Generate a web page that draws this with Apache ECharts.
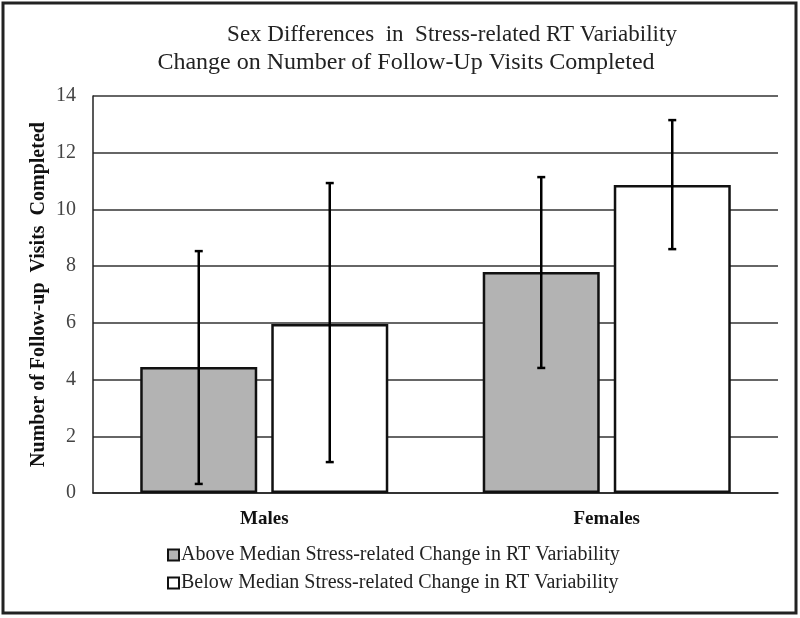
<!DOCTYPE html>
<html>
<head>
<meta charset="utf-8">
<script src="https://cdn.jsdelivr.net/npm/echarts@6/dist/echarts.min.js"></script>
<style>html,body{margin:0;padding:0;background:#fff;}#c{width:800px;height:618px;}</style>
</head>
<body>
<div id="c"></div>
<script>
var categories = ['Males', 'Females'];
var seriesNames = ['Above Median Stress-related Change in RT Variability', 'Below Median Stress-related Change in RT Variability'];
var aboveValues = [4.44, 7.79];
var belowValues = [5.96, 10.86];
var aboveErrLow = [0.32, 4.41];
var aboveErrHigh = [8.53, 11.14];
var belowErrLow = [1.09, 8.6];
var belowErrHigh = [10.93, 13.15];
var yTicks = [0, 2, 4, 6, 8, 10, 12, 14];

var serif = '"Liberation Serif", "Times New Roman", serif';
var chart = echarts.init(document.getElementById('c'));

function errSeries(low, high, offset) {
  return {
    type: 'custom',
    silent: true,
    z: 10,
    data: categories.map(function (c, i) { return [i, low[i], high[i]]; }),
    renderItem: function (params, api) {
      var lo = api.coord([api.value(0), api.value(1)]);
      var hi = api.coord([api.value(0), api.value(2)]);
      var x = lo[0] + offset;
      var cap = 4;
      var st = { stroke: '#000', lineWidth: 2.5 };
      return {
        type: 'group',
        children: [
          { type: 'line', shape: { x1: x, y1: lo[1], x2: x, y2: hi[1] }, style: st },
          { type: 'line', shape: { x1: x - cap, y1: lo[1], x2: x + cap, y2: lo[1] }, style: st },
          { type: 'line', shape: { x1: x - cap, y1: hi[1], x2: x + cap, y2: hi[1] }, style: st }
        ]
      };
    }
  };
}

chart.setOption({
  animation: false,
  backgroundColor: '#fff',
  title: [
    { text: 'Sex Differences  in  Stress-related RT Variability', left: 447, top: 18, textAlign: 'center',
      textStyle: { fontFamily: serif, fontSize: 23, fontWeight: 'normal', color: '#222' } },
    { text: 'Change on Number of Follow-Up Visits Completed', left: 401, top: 46, textAlign: 'center',
      textStyle: { fontFamily: serif, fontSize: 24, fontWeight: 'normal', color: '#222' } }
  ],
  legend: {
    orient: 'vertical',
    left: 162,
    top: 540,
    itemWidth: 11,
    itemHeight: 11,
    itemGap: 8,
    icon: 'rect',
    textStyle: { fontFamily: serif, fontSize: 20, color: '#222', padding: [0, 0, 0, -3] },
    data: seriesNames
  },
  grid: { left: 93, right: 22, top: 96, bottom: 125 },
  xAxis: {
    type: 'category',
    data: categories,
    axisTick: { show: false },
    axisLine: { show: true, lineStyle: { color: '#222', width: 1.5 } },
    axisLabel: { fontFamily: serif, fontSize: 19, fontWeight: 'bold', color: '#111', margin: 17 }
  },
  yAxis: {
    type: 'value',
    min: 0, max: 14, interval: 2,
    name: 'Number of Follow-up  Visits  Completed',
    nameLocation: 'middle',
    nameGap: 44,
    nameMoveOverlap: false,
    nameTextStyle: { fontFamily: serif, fontSize: 20, fontWeight: 'bold', color: '#111' },
    axisLine: { show: true, lineStyle: { color: '#222', width: 1.5 } },
    axisTick: { show: false },
    axisLabel: { fontFamily: serif, fontSize: 20, color: '#444', margin: 17,
      formatter: function (v) { return yTicks.indexOf(v) >= 0 ? String(v) : ''; } },
    splitLine: { lineStyle: { color: '#333', width: 1.5 } }
  },
  series: [
    { name: seriesNames[0], type: 'bar', data: aboveValues, barWidth: 117, barGap: '12%',
      itemStyle: { color: '#b3b3b3', borderColor: '#111', borderWidth: 2.5 } },
    { name: seriesNames[1], type: 'bar', data: belowValues, barWidth: 117,
      itemStyle: { color: '#ffffff', borderColor: '#111', borderWidth: 2.5 } },
    errSeries(aboveErrLow, aboveErrHigh, -65.5),
    errSeries(belowErrLow, belowErrHigh, 65.5)
  ],
  graphic: [
    { type: 'rect', shape: { x: 3, y: 3, width: 793, height: 610 }, style: { fill: 'none', stroke: '#222', lineWidth: 3 }, silent: true }
  ]
});
</script>
</body>
</html>
